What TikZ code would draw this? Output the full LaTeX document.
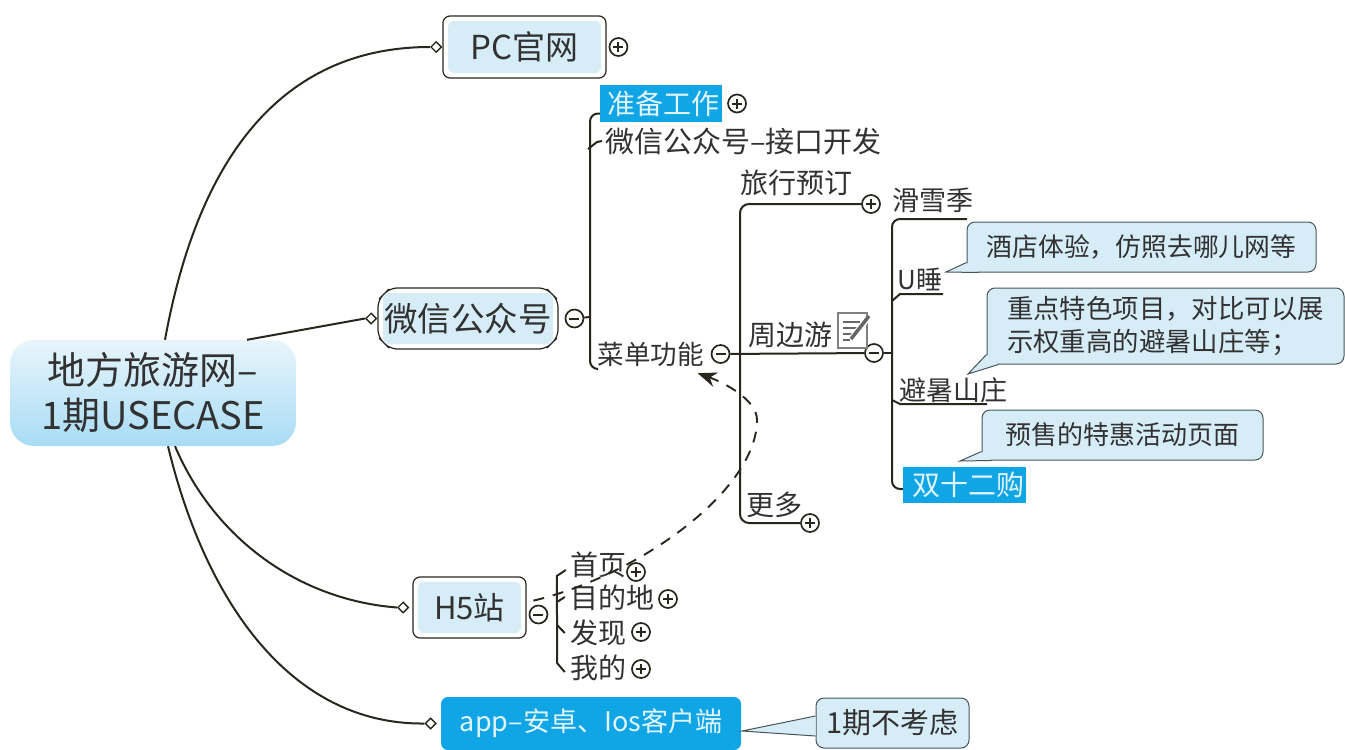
\documentclass[tikz,border=0pt]{standalone}
\usepackage{fontspec}
\setmainfont{Noto Sans CJK SC}
\usetikzlibrary{arrows.meta,positioning,shapes.geometric,shapes.misc}
\definecolor{inkdark}{RGB}{40, 38, 30}
\definecolor{textdark}{RGB}{50, 50, 50}
\definecolor{topicblue}{RGB}{214, 237, 248}
\definecolor{rootlight}{RGB}{232, 245, 251}
\definecolor{rootdeep}{RGB}{168, 220, 245}
\definecolor{accentblue}{RGB}{16, 165, 229}
\definecolor{accenttext}{RGB}{225, 244, 252}
\definecolor{noteedge}{RGB}{70, 85, 90}
\tikzset{
 branch/.style={line width=2pt, draw=inkdark},
 label/.style={
 inner sep=0pt,
 text=textdark,
 align=center,
 minimum height=36pt,
 font=\fontsize{27}{32}\selectfont
 },
 topicbox/.style={
 rectangle,
 rounded corners=7pt,
 draw=inkdark,
 fill=white,
 line width=1.2pt,
 inner sep=0pt,
 text=textdark,
 font=\fontsize{33}{40}\selectfont,
 path picture={\fill[topicblue, rounded corners=6pt] ([shift={(5,5)}]path picture bounding box.north west) rectangle ([shift={(-5,-5)}]path picture bounding box.south east);}
 },
 chamferbox/.style={
 topicbox,
 chamfered rectangle,
 chamfered rectangle xsep=6pt,
 chamfered rectangle ysep=6pt,
 chamfered rectangle corners={north west,north east,south west,south east}
 },
 accentlabel/.style={
 rectangle,
 fill=accentblue,
 text=accenttext,
 inner sep=0pt,
 font=\fontsize{28}{34}\selectfont
 },
 notebox/.style={
 rectangle,
 rounded corners=8pt,
 draw=noteedge,
 fill=topicblue,
 line width=1pt,
 inner sep=0pt,
 text=textdark,
 font=\fontsize{25.8}{33.5}\selectfont
 },
 notetail/.style={line width=1pt, draw=noteedge},
 notefill/.style={fill=topicblue},
 joint/.style={
 diamond,
 draw=inkdark,
 fill=white,
 line width=1.4pt,
 inner sep=0pt,
 minimum size=11pt
 },
 foldplus/.style={
 circle,
 draw=inkdark,
 fill=white,
 line width=1.7pt,
 inner sep=0pt,
 minimum size=18pt,
 path picture={\draw[line width=2pt, inkdark] ([xshift=-5pt]path picture bounding box.center) -- ([xshift=5pt]path picture bounding box.center) ([yshift=-5pt]path picture bounding box.center) -- ([yshift=5pt]path picture bounding box.center);}
 },
 foldminus/.style={
 circle,
 draw=inkdark,
 fill=white,
 line width=1.7pt,
 inner sep=0pt,
 minimum size=18pt,
 path picture={\draw[line width=2pt, inkdark] ([xshift=-5pt]path picture bounding box.center) -- ([xshift=5pt]path picture bounding box.center);}
 },
 relation/.style={-{Stealth[length=19pt,width=15pt]}, line width=1.9pt, dash pattern=on 11pt off 9pt, draw=inkdark}
}
\begin{document}
\begin{tikzpicture}[x=1pt,y=-1pt]
	\useasboundingbox (0,0) rectangle (1345,750);

	\node[rectangle, rounded corners=24pt, top color=rootlight, bottom color=rootdeep, inner sep=0pt, minimum width=286pt, minimum height=106pt, align=center, text=textdark, font=\fontsize{38}{45}\selectfont] (root) at (153,393) {地方旅游网–\\1期USECASE};

	\node[topicbox, minimum width=163pt, minimum height=62pt] (pc) at (524.5,47) {PC官网};
	\node[chamferbox, minimum width=180pt, minimum height=61pt, font=\fontsize{33.5}{40}\selectfont] (wx) at (468,318.5) {微信公众号};
	\node[topicbox, minimum width=113pt, minimum height=61pt, font=\fontsize{31}{36}\selectfont] (h5) at (469.5,607.5) {H5站};
	\node[accentlabel, rounded corners=7pt, minimum width=300pt, minimum height=53pt, font=\fontsize{27}{32}\selectfont] (app) at (591,723.5) {app–安卓、Ios客户端};

	\node[joint, left=0pt of pc] (pcjoint) {};
	\node[joint, left=0pt of wx] (wxjoint) {};
	\node[joint, left=3pt of h5] (h5joint) {};
	\node[joint, left=4pt of app] (appjoint) {};

	\node[foldplus, right=2pt of pc] (pcfold) {};
	\node[foldminus, right=6pt of wx] (wxfold) {};
	\node[foldminus, right=2pt of h5, yshift=-7pt] (h5fold) {};

	\node[accentlabel, minimum width=122pt, minimum height=37pt] (prep) at (661,103.5) {\kern4pt 准备工作};
	\node[foldplus, right=5pt of prep] (prepfold) {};
	\node[label, font=\fontsize{29}{34}\selectfont] (wxapi) at (743.5,141) {微信公众号–接口开发};
	\node[label, font=\fontsize{26.5}{32}\selectfont] (menu) at (650.5,354) {菜单功能};
	\node[foldminus, right=7pt of menu] (menufold) {};

	\node[label, font=\fontsize{28}{34}\selectfont] (trip) at (796,183) {旅行预订};
	\node[foldplus] (tripfold) at (871,204) {};
	\node[label, font=\fontsize{28}{34}\selectfont] (around) at (790,335) {周边游};
	\node[foldminus] (aroundfold) at (874,353) {};
	\node[label, font=\fontsize{28}{34}\selectfont] (more) at (774,505) {更多};
	\node[foldplus] (morefold) at (810,523) {};

	\node[rectangle, draw=black!50, fill=white, line width=2.6pt, inner sep=0pt, minimum width=29pt, minimum height=35pt] (pad) at (852.5,330.5) {};
	\draw[line width=1.8pt, black!60] (843,322) -- (860,322) (843,328) -- (858,328) (843,334) -- (854,334) (843,340) -- (850,340);
	\draw[line width=6pt, white] (851,339) -- (868,318);
	\draw[line width=3.5pt, black!60] (851,339) -- (869,316);

	\node[label] (ski) at (933,200) {滑雪季};
	\node[label, font=\fontsize{26}{32}\selectfont] (sleep) at (920,279) {U睡};
	\node[label] (summer) at (953,390) {避暑山庄};
	\node[accentlabel, minimum width=123pt, minimum height=36pt] (twelve) at (964.5,485) {\kern8pt 双十二购};

	\node[label, font=\fontsize{28}{34}\selectfont] (home) at (598,565) {首页};
	\node[foldplus] (homefold) at (636,572) {};
	\node[label, font=\fontsize{28}{34}\selectfont] (dest) at (612,598) {目的地};
	\node[foldplus] (destfold) at (668,599) {};
	\node[label, font=\fontsize{28}{34}\selectfont] (find) at (598,633) {发现};
	\node[foldplus] (findfold) at (641,632) {};
	\node[label, font=\fontsize{28}{34}\selectfont] (mine) at (598,668) {我的};
	\node[foldplus] (minefold) at (641,669) {};

	\node[notebox, minimum width=349pt, minimum height=50pt] (note1) at (1141.5,247) {酒店体验^^^^ff0c仿照去哪儿网等};
	\node[notebox, minimum width=357pt, minimum height=76pt, align=left, font=\fontsize{26.4}{33.5}\selectfont] (note2) at (1165.5,326) {重点特色项目^^^^ff0c对比可以展\\示权重高的避暑山庄等^^^^ff1b};
	\node[notebox, minimum width=281pt, minimum height=50pt, font=\fontsize{26}{33.5}\selectfont] (note3) at (1122.5,435) {预售的特惠活动页面};
	\node[notebox, minimum width=153pt, minimum height=50pt, font=\fontsize{29}{34}\selectfont] (note4) at (892.5,723) {1期不考虑};

	\coordinate (note1tip) at (946,272);
	\coordinate (note2tip) at (968,374);
	\coordinate (note3tip) at (960,461);
	\coordinate (note4tip) at (742,731);

	\fill[notefill] ([yshift=10pt]note1.south west) -- (note1tip) -- ([xshift=12pt]note1.south west) -- cycle;
	\draw[notetail] ([yshift=10pt]note1.south west) -- (note1tip) -- ([xshift=12pt]note1.south west);
	\fill[notefill] ([yshift=10pt]note2.south west) -- (note2tip) -- ([xshift=12pt]note2.south west) -- cycle;
	\draw[notetail] ([yshift=10pt]note2.south west) -- (note2tip) -- ([xshift=12pt]note2.south west);
	\fill[notefill] ([yshift=9pt]note3.south west) -- (note3tip) -- ([xshift=10pt]note3.south west) -- cycle;
	\draw[notetail] ([yshift=9pt]note3.south west) -- (note3tip) -- ([xshift=10pt]note3.south west);
	\fill[notefill] ([yshift=7pt]note4.west) -- (note4tip) -- ([yshift=-13pt]note4.west) -- cycle;
	\draw[notetail] ([yshift=7pt]note4.west) -- (note4tip) -- ([yshift=-13pt]note4.west);

	\draw[branch] ([xshift=12pt]root.north) .. controls (205,120) and (310,47) .. (pcjoint.west);
	\draw[branch] ([xshift=94pt]root.north) -- (wxjoint.west);
	\draw[branch] ([xshift=22pt]root.south) .. controls (215,540) and (300,600) .. (h5joint.west);
	\draw[branch] ([xshift=15pt]root.south) .. controls (205,600) and (290,725) .. (appjoint.west);

	\coordinate (wxbar) at (590,317);
	\coordinate (menubar) at (740,353);
	\coordinate (aroundbar) at (892,353);
	\coordinate (h5bar) at (557,615);
	\coordinate (skiend) at (967,219);
	\coordinate (sleepend) at (943,294);
	\coordinate (summerend) at (987,404);

	\draw[branch] (wxfold) -- (wxbar);
	\draw[branch, rounded corners=8pt] ([yshift=-10pt]prep.west) -| (wxbar) |- ([yshift=-15pt]menu.west);
	\draw[branch] ([xshift=-3pt]wxapi.west) -- ++(-5,1) -- ++(-9,7);

	\draw[branch] (menufold) -- (aroundfold);
	\draw[branch, rounded corners=9pt] (tripfold.west) -| (menubar) |- (morefold.west);

	\draw[branch] (aroundfold) -- (aroundbar);
	\draw[branch, rounded corners=8pt] (skiend) -| (aroundbar) |- ([yshift=-4pt]twelve.west);
	\draw[branch] (sleepend) -- ++(-43,0) -- ++(-8,7);
	\draw[branch] (summerend) -- ++(-87,0) -- ++(-8,-4);

	\draw[branch] ([shift={(-4,5)}]home.west) -- ++(-9,6) -- (h5bar) -- (557,663) -- ([shift={(-5,4)}]mine.west);
	\draw[branch] ([shift={(-5,-1)}]dest.west) -- (557,602);
	\draw[branch] (557,625) -- ([shift={(-5,0)}]find.west);

	\draw[relation] ([shift={(-5,-4)}]h5fold.north) .. controls (640,575) and (757,490) .. (757,420) .. controls (757,400) and (725,383) .. ([shift={(-6,1)}]menu.south east);
\end{tikzpicture}
\end{document}
